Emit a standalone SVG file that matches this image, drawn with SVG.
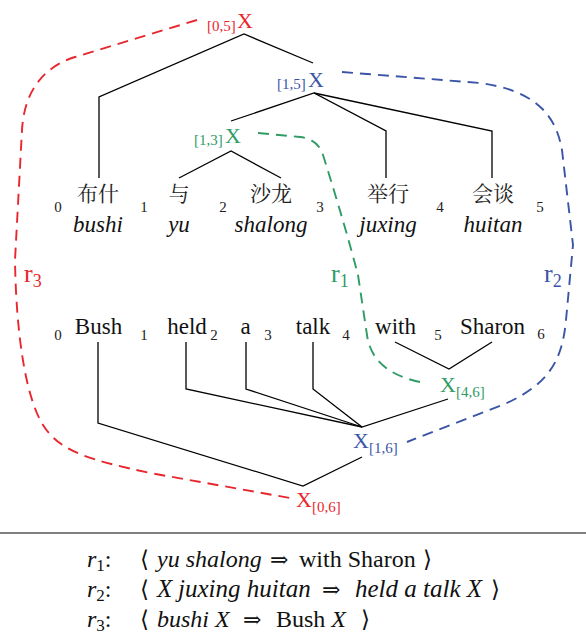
<svg xmlns="http://www.w3.org/2000/svg" width="586" height="635" viewBox="0 0 586 635">
  <style>
    text { font-family: "Liberation Serif", "Times New Roman", serif; fill: #111; }
    .zh { font-family: "Noto Serif CJK SC", "Noto Sans CJK SC", serif; font-size: 21px; text-anchor: middle; fill: #222; }
    .py { font-family: "Liberation Serif", serif; font-size: 23px; font-style: italic; text-anchor: middle; }
    .en { font-family: "Liberation Serif", serif; font-size: 23px; text-anchor: middle; }
    .pos { font-family: "Liberation Serif", serif; font-size: 15px; text-anchor: middle; fill: #222; }
    .big { font-size: 22px; }
    .sub { font-size: 15px; }
    .red { fill: #e8262d; }
    .blue { fill: #3b55a6; }
    .green { fill: #2f9c65; }
    .tree { fill: none; stroke: #000; stroke-width: 1.3; }
    .dash { fill: none; stroke-width: 1.9; stroke-dasharray: 11 7; }
    .rule { font-family: "Liberation Serif", serif; font-size: 24px; }
    .wide { font-size: 25px; }
    .it { font-style: italic; }
    .br { font-family: "DejaVu Serif", "DejaVu Sans", serif; font-size: 23px; }
    .ar { font-family: "DejaVu Serif", "DejaVu Sans", serif; font-size: 22px; }
    .rl { font-size: 26px; }
    .rs { font-size: 18px; }
  </style>

  <!-- source sentence: Chinese words with pinyin, and span boundaries -->
  <g id="source">
    <text class="pos" x="58" y="212">0</text>
    <text class="pos" x="144" y="212">1</text>
    <text class="pos" x="223" y="212">2</text>
    <text class="pos" x="320" y="212">3</text>
    <text class="pos" x="440" y="212">4</text>
    <text class="pos" x="540" y="212">5</text>
    <g id="w-bushi"><text class="zh" x="98" y="201">布什</text><text class="py" x="98" y="232">bushi</text></g>
    <g id="w-yu"><text class="zh" x="179" y="201">与</text><text class="py" x="179" y="232">yu</text></g>
    <g id="w-shalong"><text class="zh" x="271" y="201">沙龙</text><text class="py" x="271" y="232">shalong</text></g>
    <g id="w-juxing"><text class="zh" x="388" y="201">举行</text><text class="py" x="388" y="232">juxing</text></g>
    <g id="w-huitan"><text class="zh" x="493" y="201">会谈</text><text class="py" x="493" y="232">huitan</text></g>
  </g>

  <!-- target sentence -->
  <g id="target">
    <text class="pos" x="58" y="340">0</text>
    <text class="pos" x="144" y="340">1</text>
    <text class="pos" x="214" y="340">2</text>
    <text class="pos" x="268" y="340">3</text>
    <text class="pos" x="346" y="340">4</text>
    <text class="pos" x="438" y="340">5</text>
    <text class="pos" x="541" y="339">6</text>
    <text id="w-Bush" class="en" x="98.5" y="334">Bush</text>
    <text id="w-held" class="en" x="187" y="334">held</text>
    <text id="w-a" class="en" x="245.5" y="334">a</text>
    <text id="w-talk" class="en" x="313" y="334">talk</text>
    <text id="w-with" class="en" x="395.5" y="334">with</text>
    <text id="w-Sharon" class="en" x="492.5" y="334">Sharon</text>
  </g>

  <!-- nonterminal nodes -->
  <g id="n-src-0-5"><text class="sub red" x="207" y="31">[0,5]</text><text class="big red" x="237" y="28">X</text></g>
  <g id="n-src-1-5"><text class="sub blue" x="277" y="89">[1,5]</text><text class="big blue" x="308" y="87">X</text></g>
  <g id="n-src-1-3"><text class="sub green" x="194" y="145">[1,3]</text><text class="big green" x="225" y="143">X</text></g>
  <g id="n-tgt-4-6"><text class="big green" x="440" y="392">X</text><text class="sub green" x="456" y="397">[4,6]</text></g>
  <g id="n-tgt-1-6"><text class="big blue" x="353" y="448">X</text><text class="sub blue" x="369" y="453">[1,6]</text></g>
  <g id="n-tgt-0-6"><text class="big red" x="296" y="507">X</text><text class="sub red" x="312" y="512">[0,6]</text></g>

  <!-- rule labels -->
  <g id="labels">
    <text class="red rl" x="24" y="282">r<tspan class="rs" dy="5">3</tspan></text>
    <text class="green rl" x="331" y="282">r<tspan class="rs" dy="5">1</tspan></text>
    <text class="blue rl" x="544" y="282">r<tspan class="rs" dy="5">2</tspan></text>
  </g>

  <!-- connectors: tree edges and rule links -->
  <g id="connectors">
    <polyline class="tree" points="313,63 244,34 99,97 99,178"/>
    <polyline class="tree" points="231,121 314,93 386,131 386,178"/>
    <polyline class="tree" points="314,93 492,131 492,178"/>
    <polyline class="tree" points="179,178 231,151 281,178"/>

    <polyline class="tree" points="98,342 98,423 303,486 362,457"/>
    <polyline class="tree" points="186,342 186,389 362,427"/>
    <polyline class="tree" points="246,342 246,389 362,427"/>
    <polyline class="tree" points="313,342 313,389 362,427 448,399"/>
    <polyline class="tree" points="395,342 449,369 492,342"/>

    <path class="dash" stroke="#e8262d" d="M197,20 L75,57 C40,68 24,95 22,130 L15,260 C16,330 25,400 45,428 C62,452 90,460 150,473 L290,498"/>
    <path class="dash" stroke="#3b55a6" d="M342,72 L480,83 C530,90 555,110 562,150 L573,245 L566,320 C562,365 545,385 507,403 L407,442"/>
    <path class="dash" stroke="#2f9c65" d="M258,133 L300,137 Q318,139 323,155 Q345,225 358,275 L367,335 Q372,372 420,382"/>
  </g>

  <!-- separator -->
  <line x1="0" y1="533" x2="586" y2="533" stroke="#555" stroke-width="1.3"/>

  <!-- rule listing -->
  <g id="rules" class="rule">
    <text x="87" y="567"><tspan class="it">r</tspan><tspan font-size="17" dy="4">1</tspan><tspan dy="-4">:</tspan></text>
    <text class="br" x="140" y="567">⟨</text>
    <text x="157" y="567" class="it">yu shalong</text>
    <text class="ar" x="270" y="567">⇒</text>
    <text x="299" y="567">with Sharon</text>
    <text class="br" x="423" y="567">⟩</text>

    <text x="87" y="597"><tspan class="it">r</tspan><tspan font-size="17" dy="4">2</tspan><tspan dy="-4">:</tspan></text>
    <text class="br" x="140" y="597">⟨</text>
    <text x="157" y="597" class="it wide">X</text>
    <text x="178" y="597" class="it wide">juxing huitan</text>
    <text class="ar" x="322" y="597">⇒</text>
    <text x="355" y="597" class="it wide">held a talk X</text>
    <text class="br" x="491" y="597">⟩</text>

    <text x="87" y="627"><tspan class="it">r</tspan><tspan font-size="17" dy="4">3</tspan><tspan dy="-4">:</tspan></text>
    <text class="br" x="140" y="627">⟨</text>
    <text x="157" y="627" class="it">bushi X</text>
    <text class="ar" x="243" y="627">⇒</text>
    <text x="276" y="627">Bush <tspan class="it">X</tspan></text>
    <text class="br" x="361" y="627">⟩</text>
  </g>
</svg>
